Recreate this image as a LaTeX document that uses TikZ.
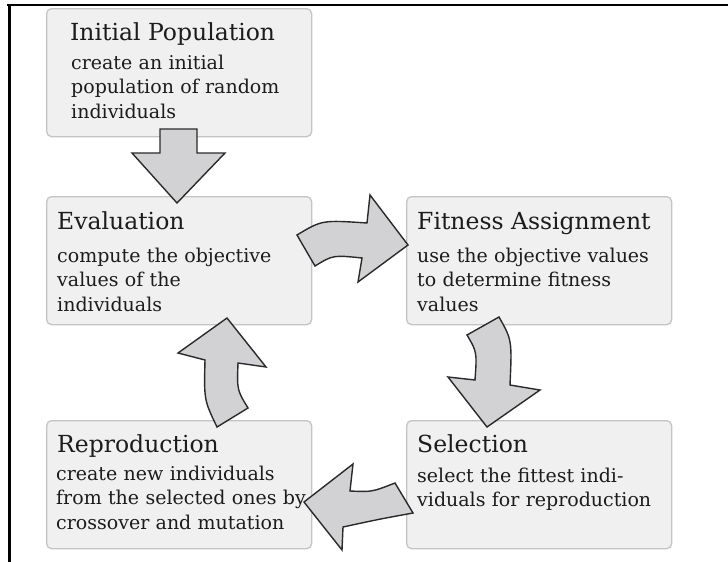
\documentclass[tikz,border=0pt]{standalone}
\usepackage{fontspec}
\setmainfont{DejaVu Serif}
\usetikzlibrary{calc}
\definecolor{boxfill}{HTML}{F0F0F0}
\definecolor{boxline}{HTML}{C4C4C4}
\definecolor{arrfill}{HTML}{D2D2D4}
\definecolor{arrline}{HTML}{2A2A2A}
\definecolor{txt}{HTML}{1C1C1C}
\begin{document}
\begin{tikzpicture}[x=1pt,y=-1pt,
  stagebox/.style={draw=boxline, fill=boxfill, line width=1.3pt, rounded corners=5pt,
    minimum width=265pt, minimum height=128pt, anchor=north west, inner sep=0pt},
  stagetitle/.style={anchor=base west, inner sep=0pt, text=txt, font=\fontsize{23.5}{27}\selectfont},
  stagebody/.style={anchor=base west, inner sep=0pt, text=txt, text width=255pt, align=left,
    font=\fontsize{19}{24.5}\selectfont},
  bigarrow/.style={fill=arrfill, draw=arrline, line width=1.4pt, line join=miter}]
\useasboundingbox (0,0) rectangle (728,562);
\fill[white] (0,0) rectangle (728,562);
\draw[line width=2.5pt] (7,5) -- (728,5);
\draw[line width=2.5pt] (9.5,4) -- (9.5,562);

% boxes
\node[stagebox] (init) at (46,8) {};
\node[stagebox] (eval) at (46,196) {};
\node[stagebox] (fit) at (406,196) {};
\node[stagebox] (repr) at (46,420) {};
\node[stagebox] (sel) at (406,420) {};

% texts
\node[stagetitle] (initT) at ($(init.north west)+(24,32)$) {Initial Population};
\node[stagebody] (initB) at ($(init.north west)+(25,61)$) {create an initial\\population of random\\individuals};
\node[stagetitle] (evalT) at ($(eval.north west)+(11,33)$) {Evaluation};
\node[stagebody] (evalB) at ($(eval.north west)+(11,66)$) {compute the objective\\values of the\\individuals};
\node[stagetitle] (fitT) at ($(fit.north west)+(11,33)$) {Fitness Assignment};
\node[stagebody] (fitB) at ($(fit.north west)+(11,66)$) {use the objective values\\to determine fitness\\values};
\node[stagetitle] (reprT) at ($(repr.north west)+(11,32)$) {Reproduction};
\node[stagebody] (reprB) at ($(repr.north west)+(10,60)$) {create new individuals\\from the selected ones by\\crossover and mutation};
\node[stagetitle] (selT) at ($(sel.north west)+(11,32)$) {Selection};
\node[stagebody] (selB) at ($(sel.north west)+(11,62)$) {select the fittest indi-\\viduals for reproduction};

% arrows
\draw[bigarrow] (160,129) -- (197,129) -- (197,153) -- (225,153) -- (177,203) -- (132,153) -- (160,153) -- cycle;
\draw[bigarrow] (297,235) .. controls (322,220) .. (367,223) -- (370,195) -- (408,245) -- (358,282) -- (362,258) .. controls (333,255) .. (315,266) -- cycle;
\draw[bigarrow] (467,335) -- (499,317) .. controls (512,340) .. (510,385) -- (540,390) -- (487,427) -- (448,377) -- (475,380) .. controls (477,352) .. (467,335) -- cycle;
\draw[bigarrow] (217,427) -- (248,408) .. controls (237,390) .. (238,363) -- (266,367) -- (227,318) -- (178,353) -- (205,360) .. controls (204,400) .. (217,427) -- cycle;
\draw[bigarrow] (304,502) -- (353,464) -- (350,491) .. controls (372,492) .. (395,483) -- (413,513) .. controls (380,519) .. (343,527) -- (342,550) -- cycle;
\end{tikzpicture}
\end{document}
